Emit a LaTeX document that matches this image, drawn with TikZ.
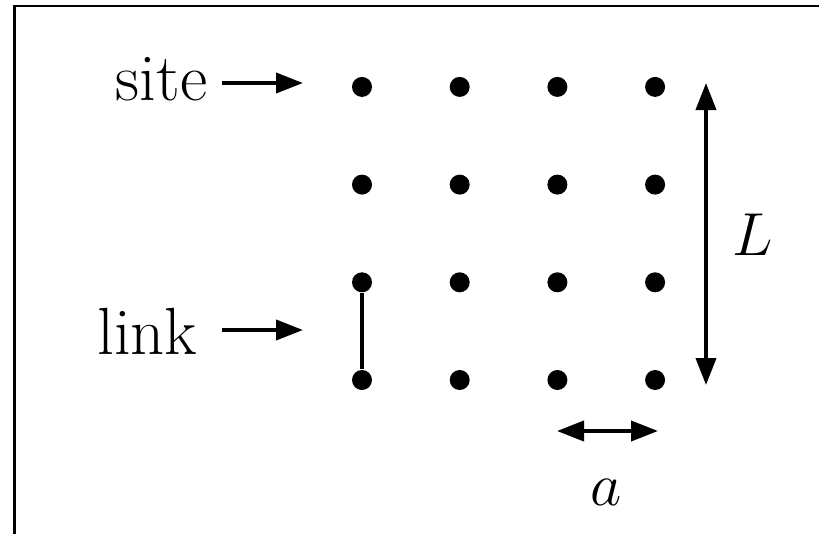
\documentclass[tikz,border=0pt]{standalone}
\usetikzlibrary{arrows.meta,positioning}

\begin{document}
\begin{tikzpicture}[
      dot/.style={circle,fill=black,inner sep=0pt,minimum size=2mm},
      lbl/.style={font=\fontsize{19}{23}\selectfont,inner sep=0pt},
      arr/.style={-{Triangle[length=2.7mm,width=2mm]},line width=1.1pt},
      dbl/.style={{Triangle[length=2.7mm,width=2mm]}-{Triangle[length=2.7mm,width=2mm]},line width=1.1pt}
    ]
    \useasboundingbox (0,0) rectangle (8.19,5.33);
    \draw[line width=0.7pt] (0.145,-1) |- (9,5.27);
    % lattice of sites
    \foreach \i in {0,...,3}
      \foreach \j in {0,...,3}
        \node[dot] (d\i\j) at (3.62+0.977*\i,1.53+0.977*\j) {};
    \draw[line width=1.1pt] (d00) -- (d01);
    % labels
    \node[lbl,anchor=base east] (site) at (2.08,4.33) {site};
    \node[lbl,anchor=base east] (link) at (1.98,1.79) {link};
    \coordinate (sitetip) at (3.03,4.50);
    \coordinate (linktip) at (3.03,2.03);
    \draw[arr,shorten <=1.4mm] (site.east |- sitetip) -- (sitetip);
    \draw[arr,shorten <=2.4mm] (link.east |- linktip) -- (linktip);
    % size arrows
    \coordinate (Ltop) at (7.06,4.50);
    \coordinate (Lbot) at (7.06,1.48);
    \draw[dbl] (Ltop) -- (Lbot);
    \node[lbl] (Llbl) at (7.53,2.98) {$L$};
    \coordinate (aleft) at (5.57,1.02);
    \coordinate (aright) at (6.58,1.02);
    \draw[dbl] (aleft) -- (aright);
    \node[lbl] (albl) at (6.06,0.41) {$a$};
  \end{tikzpicture}
\end{document}
